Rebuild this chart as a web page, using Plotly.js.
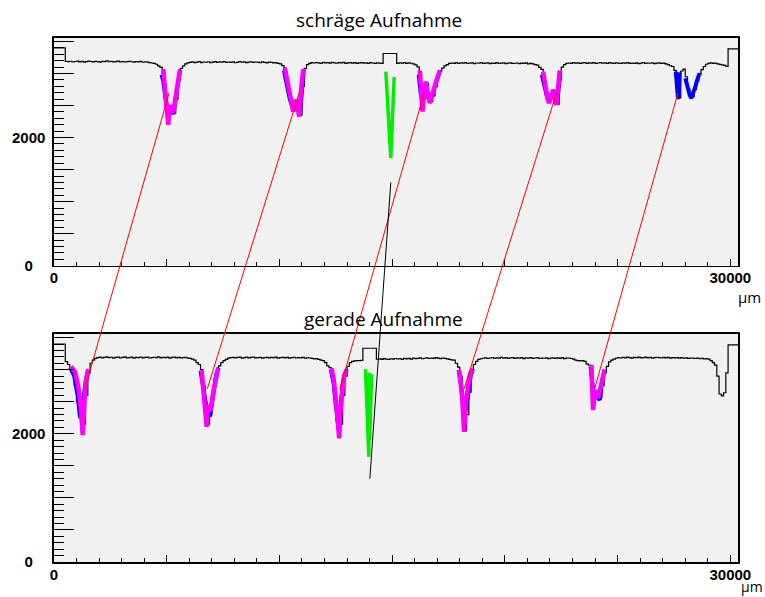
<!DOCTYPE html>
<html>
<head>
<meta charset="utf-8">
<script src="https://cdn.plot.ly/plotly-3.0.1.min.js"></script>
<style>html,body{margin:0;padding:0;background:#fff}</style>
</head>
<body>
<div id="chart" style="width:765px;height:597px"></div>
<script>
// Strip profiles (counts per 100 µm bin), oblique and straight exposure
const BIN_UM = 100;

const schraegCounts = [
  3400,3400,3400,3400,3400,3190,3185,3192,3180,3188,
  3195,3183,3190,3178,3186,3194,3188,3182,3191,3185,
  3179,3190,3186,3197,3184,3189,3181,3187,3193,3183,
  3188,3180,3186,3191,3184,3178,3187,3182,3189,3176,
  3184,3179,3170,3165,3160,3145,3120,3095,2950,2600,
  2250,2450,2500,2380,2600,2900,3080,3120,3150,3168,
  3175,3182,3170,3178,3185,3172,3180,3176,3184,3171,
  3179,3186,3174,3181,3177,3188,3173,3180,3175,3183,
  3170,3178,3185,3176,3181,3172,3179,3184,3174,3180,
  3177,3171,3182,3175,3168,3178,3173,3166,3170,3160,
  3150,3125,3085,2900,2700,2500,2420,2580,2440,2350,
  2800,3080,3140,3160,3170,3165,3172,3168,3160,3174,
  3166,3170,3163,3175,3168,3161,3170,3166,3173,3159,
  3167,3171,3164,3169,3158,3166,3172,3163,3168,3160,
  3170,3165,3158,3167,3162,3160,3313,3313,3313,3313,
  3313,3313,3160,3168,3163,3170,3158,3166,3161,3150,
  3135,3105,3020,2450,2620,2850,2580,2560,2650,2800,
  2950,3040,3085,3120,3140,3158,3165,3160,3170,3157,
  3166,3162,3171,3159,3164,3168,3156,3165,3161,3170,
  3158,3163,3167,3155,3164,3160,3169,3157,3162,3166,
  3154,3163,3168,3158,3161,3165,3155,3162,3159,3166,
  3152,3160,3150,3140,3130,3095,3065,2920,2700,2560,
  2620,2740,2600,2520,2900,3100,3140,3158,3165,3160,
  3170,3162,3168,3158,3166,3171,3160,3167,3163,3169,
  3157,3165,3172,3161,3166,3159,3170,3164,3160,3168,
  3162,3157,3166,3163,3169,3158,3164,3160,3167,3155,
  3163,3170,3159,3165,3161,3168,3156,3162,3166,3158,
  3164,3152,3140,3125,3110,3050,2900,2620,3040,3070,
  2950,2760,2650,2640,2750,2880,2990,3060,3110,3145,
  3160,3166,3158,3163,3150,3142,3135,3128,3112,3386,
  3386,3386,3386,3386
];

const geradeCounts = [
  3400,3400,3400,3400,3400,3125,3080,3030,2950,2750,
  2500,2250,2050,2150,2600,2950,3100,3150,3175,3188,
  3195,3184,3192,3199,3186,3193,3181,3190,3196,3185,
  3191,3198,3183,3189,3194,3180,3192,3187,3197,3184,
  3190,3195,3182,3188,3193,3186,3199,3183,3191,3187,
  3194,3181,3190,3196,3185,3192,3184,3189,3193,3180,
  3175,3165,3150,3110,3080,3000,2750,2300,2150,2300,
  2600,2850,2980,3060,3110,3140,3160,3180,3186,3192,
  3183,3190,3195,3181,3188,3194,3185,3191,3197,3184,
  3189,3193,3180,3187,3192,3183,3190,3186,3194,3181,
  3188,3192,3185,3190,3179,3187,3193,3182,3189,3184,
  3191,3178,3186,3182,3175,3168,3172,3160,3150,3140,
  3110,3060,3030,2950,2600,2200,1950,2150,2600,2900,
  3050,3110,3130,3138,3142,3140,3145,3334,3334,3334,
  3334,3334,3334,3162,3168,3160,3171,3165,3158,3170,
  3163,3174,3166,3172,3161,3175,3168,3177,3164,3180,
  3171,3176,3183,3170,3178,3185,3174,3181,3176,3186,
  3179,3173,3182,3177,3168,3160,3152,3150,3100,3040,
  2900,2400,2050,2300,2650,2950,3080,3130,3160,3170,
  3178,3185,3174,3182,3188,3176,3184,3179,3190,3181,
  3186,3175,3183,3189,3177,3185,3180,3187,3173,3184,
  3179,3188,3176,3182,3186,3174,3181,3178,3185,3172,
  3180,3184,3175,3183,3177,3186,3171,3179,3182,3174,
  3165,3150,3141,3138,3140,3130,3090,3070,3000,2500,
  2600,2620,2560,2750,2950,3050,3120,3150,3165,3178,
  3186,3182,3190,3184,3195,3188,3181,3192,3187,3194,
  3183,3189,3196,3185,3191,3180,3188,3193,3186,3182,
  3190,3185,3192,3179,3187,3183,3189,3181,3186,3178,
  3184,3176,3182,3180,3174,3179,3170,3176,3168,3172,
  3165,3140,3110,3070,2900,2620,2590,2640,2950,3386,
  3386,3386,3386,3386
];

// Fitted line profiles (µm, counts); null separates the individual lines
const schraegFitAX = [4846,4920,4990,5068,5120,5174,5230,5289,5380,5480,5586, null,
  10241,10350,10480,10610,10690,10759,10820,10877,10950,11054, null,
  16226,16280,16345,16420,16492,16580,16670,16800,16950,17113, null,
  21693,21800,21900,21959,22050,22137,22220,22287,22360,22433];
const schraegFitAY = [3069,2780,2450,2198,2420,2511,2430,2381,2600,2830,3058, null,
  3084,2880,2600,2406,2520,2589,2450,2329,2700,3069, null,
  3047,2700,2406,2700,2875,2700,2538,2700,2880,3047, null,
  3031,2780,2600,2538,2650,2745,2600,2511,2780,3047];
const schraegFitBX = [4770,4850,4950,5040,5120,5200,5260,5300,5400,5500,5600, null,
  10200,10320,10460,10600,10700,10780,10860,10920,11000,11080, null,
  16180,16260,16350,16440,16520,16600,16680,16800,16950,17120, null,
  21640,21760,21880,21980,22080,22160,22250,22320,22400,22460, null,
  27580,27640,27680,27720,27760, null,
  28005,28100,28200,28271,28350,28450,28550,28640];
const schraegFitBY = [2980,2880,2600,2400,2480,2430,2380,2370,2620,2860,3060, null,
  3050,2850,2600,2450,2560,2560,2420,2400,2750,3070, null,
  2980,2700,2550,2750,2800,2620,2560,2700,2880,3050, null,
  2980,2800,2620,2560,2680,2700,2560,2530,2800,3030, null,
  3030,2800,2600,2800,3020, null,
  2928,2780,2660,2616,2680,2800,2920,3006];
const schraegSliceX = [14719,14941,15088];
const schraegSliceY = [3031,1678,2944];

const geradeFitAX = [754,931,1077,1184,1272,1330,1388,1476,1521, null,
  6548,6620,6696,6770,6830,6880,6930,7063,7182,7284, null,
  12311,12414,12503,12605,12649,12711,12770,12858,12976, null,
  17969,18031,18103,18191,18265,18368,18474,18563, null,
  23838,23882,23910,23984,24060,24133,24237,24354,24428];
const geradeFitAY = [3047,2969,2734,2422,1980,2370,2734,2943,3006, null,
  2995,2760,2450,2109,2450,2400,2350,2650,2900,3022, null,
  3022,2839,2526,2109,1928,2370,2683,2891,2995, null,
  2995,2839,2578,2031,2474,2734,2943,3006, null,
  3073,2683,2370,2605,2683,2553,2709,2943,2995];
const geradeFitBX = [720,900,1050,1153,1230,1320,1420,1540, null,
  6500,6600,6700,6800,6916,7000,7100,7200,7300, null,
  12280,12400,12500,12560,12620,12700,12800,12900,12990, null,
  17950,18050,18150,18230,18300,18400,18500,18580, null,
  23800,23880,23950,24050,24130,24206,24300,24420];
const geradeFitBY = [3030,2900,2600,2266,2350,2600,2850,3000, null,
  2980,2800,2550,2350,2266,2450,2750,2930,3030, null,
  3000,2800,2450,2214,2150,2400,2750,2930,3000, null,
  2990,2780,2450,2319,2450,2750,2940,3010, null,
  3050,2750,2550,2650,2560,2527,2800,3000];
const geradeSliceX = [13819,13965,13990,14000,14090];
const geradeSliceY = [3006,1640,2950,1900,2930];

// Matching lines between the two exposures (position in each panel, common level)
const linkTopX = [5110, 10880, 16420, 22290, 27680];
const linkBottomX = [1370, 6800, 12680, 18190, 23980];
const linkLevel = 2700;
const sliceLinkTopX = 14940;
const sliceLinkBottomX = 14010;
const sliceLinkLevel = 1300;

// Axis ticks
const xMajorTicks = [0,5000,10000,15000,20000,25000,30000];
const xTickText = ['0','','','','','','30000'];
const yMajorTicks = [0,500,1000,1500,2000,2500,3000,3500];
const yTickText = ['0\u00a0\u00a0\u00a0','','','','2000','','',''];

const X_RANGE = [0, 30340];
const Y_RANGE = [0, 3555];
const TOP_DOMAIN = [0.5655, 1];
const BOTTOM_DOMAIN = [0, 0.435];

function histogram(counts) {
  const x = [], y = [];
  counts.forEach((c, i) => { x.push(i * BIN_UM); y.push(c); });
  x.push(counts.length * BIN_UM); y.push(counts[counts.length - 1]);
  return {x, y};
}

const tickFont = {family: 'Liberation Sans, Arial, sans-serif', size: 15, weight: 'bold', color: '#000'};

function xAxis(anchor) {
  return {
    domain: [0, 1], anchor: anchor, range: X_RANGE,
    showgrid: false, zeroline: false, showline: true, mirror: true,
    linecolor: '#000', linewidth: 1.6,
    ticks: 'inside', ticklen: 7, tickwidth: 1, tickcolor: '#000',
    tickmode: 'array', tickvals: xMajorTicks, ticktext: xTickText,
    tickfont: tickFont, ticklabelstandoff: -2,
    minor: {ticks: 'inside', ticklen: 4, tickwidth: 1, tickcolor: '#000',
            tickmode: 'linear', tick0: 0, dtick: 1000, showgrid: false},
    fixedrange: true
  };
}
function yAxis(anchor, domain) {
  return {
    domain: domain, anchor: anchor, range: Y_RANGE,
    showgrid: false, zeroline: false, showline: true, mirror: true,
    linecolor: '#000', linewidth: 1.6,
    ticks: 'inside', ticklen: 20, tickwidth: 1, tickcolor: '#000',
    tickmode: 'array', tickvals: yMajorTicks, ticktext: yTickText,
    tickfont: tickFont, ticklabelstandoff: 4,
    minor: {ticks: 'inside', ticklen: 10, tickwidth: 1, tickcolor: '#000',
            tickmode: 'linear', tick0: 0, dtick: 100, showgrid: false},
    fixedrange: true
  };
}

const hTop = histogram(schraegCounts);
const hBot = histogram(geradeCounts);

function profileTraces(h, fitAX, fitAY, fitBX, fitBY, sliceX, sliceY, xa, ya) {
  return [
    {x: h.x, y: h.y, xaxis: xa, yaxis: ya, type: 'scatter', mode: 'lines',
     line: {color: '#000', width: 1.2, shape: 'hv'}, hoverinfo: 'skip'},
    {x: fitBX, y: fitBY, xaxis: xa, yaxis: ya, type: 'scatter', mode: 'lines',
     line: {color: '#0000ff', width: 4}, connectgaps: false, hoverinfo: 'skip'},
    {x: fitAX, y: fitAY, xaxis: xa, yaxis: ya, type: 'scatter', mode: 'lines',
     line: {color: '#ff00ff', width: 4.5}, connectgaps: false, hoverinfo: 'skip'},
    {x: sliceX, y: sliceY, xaxis: xa, yaxis: ya, type: 'scatter', mode: 'lines',
     line: {color: '#00ee00', width: 3.5}, hoverinfo: 'skip'}
  ];
}

const traces = [].concat(
  profileTraces(hTop, schraegFitAX, schraegFitAY, schraegFitBX, schraegFitBY, schraegSliceX, schraegSliceY, 'x2', 'y2'),
  profileTraces(hBot, geradeFitAX, geradeFitAY, geradeFitBX, geradeFitBY, geradeSliceX, geradeSliceY, 'x', 'y')
);

// map a count level inside a panel to paper height
function paperY(domain, value) {
  return domain[0] + (value - Y_RANGE[0]) / (Y_RANGE[1] - Y_RANGE[0]) * (domain[1] - domain[0]);
}

const shapes = linkTopX.map((tx, i) => ({
  type: 'line', xref: 'x', yref: 'paper', layer: 'above',
  x0: tx, y0: paperY(TOP_DOMAIN, linkLevel),
  x1: linkBottomX[i], y1: paperY(BOTTOM_DOMAIN, linkLevel),
  line: {color: '#ff0000', width: 1}
}));
shapes.push({
  type: 'line', xref: 'x', yref: 'paper', layer: 'above',
  x0: sliceLinkTopX, y0: paperY(TOP_DOMAIN, sliceLinkLevel),
  x1: sliceLinkBottomX, y1: paperY(BOTTOM_DOMAIN, sliceLinkLevel),
  line: {color: '#000', width: 1}
});

const titleFont = {family: 'Open Sans, DejaVu Sans, sans-serif', size: 19, color: '#000'};
const unitFont = {family: 'Open Sans, DejaVu Sans, sans-serif', size: 15, color: '#000'};
const unitFontSmall = {family: 'Open Sans, DejaVu Sans, sans-serif', size: 14, color: '#000'};

const layout = {
  width: 765, height: 597,
  margin: {l: 54, r: 26.7, t: 38.3, b: 35.3, pad: 0},
  paper_bgcolor: '#fff', plot_bgcolor: '#f1f1f1',
  showlegend: false,
  xaxis: xAxis('y'),
  yaxis: yAxis('x', BOTTOM_DOMAIN),
  xaxis2: xAxis('y2'),
  yaxis2: yAxis('x2', TOP_DOMAIN),
  shapes: shapes,
  annotations: [
    {text: 'schräge Aufnahme', xref: 'paper', yref: 'paper', x: 0.475, y: 1.035,
     xanchor: 'center', yanchor: 'middle', showarrow: false, font: titleFont},
    {text: 'gerade Aufnahme', xref: 'paper', yref: 'paper', x: 0.481, y: 0.4637,
     xanchor: 'center', yanchor: 'middle', showarrow: false, font: titleFont},
    {text: 'µm', xref: 'paper', yref: 'paper', x: 1.0365, y: 0.506,
     xanchor: 'right', yanchor: 'middle', showarrow: false, font: unitFont},
    {text: 'µm', xref: 'paper', yref: 'paper', x: 1.0375, y: -0.0672,
     xanchor: 'right', yanchor: 'bottom', borderpad: 0, showarrow: false, font: unitFontSmall}
  ]
};

Plotly.newPlot('chart', traces, layout, {staticPlot: true, displayModeBar: false});
</script>
</body>
</html>
